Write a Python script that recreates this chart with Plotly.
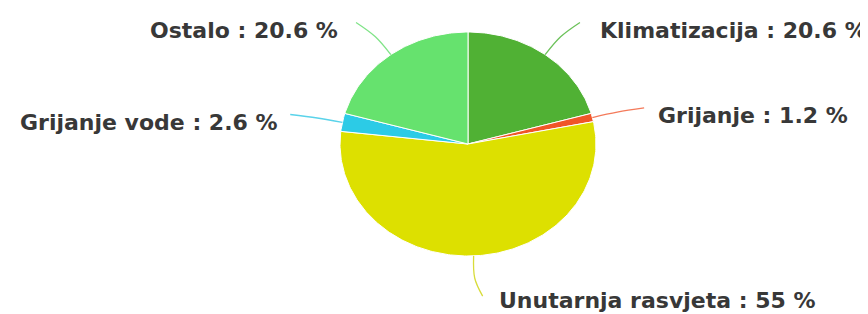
import numpy as np
import plotly.graph_objects as go

categories = ["Klimatizacija", "Grijanje", "Unutarnja rasvjeta", "Grijanje vode", "Ostalo"]
values = [20.6, 1.2, 55.0, 2.6, 20.6]
colors = ["#50b134", "#f05628", "#dde000", "#2ccbe6", "#66e26e"]
line_colors = ["#6cc25a", "#f47a5a", "#d8dc3a", "#5ad3ea", "#80e488"]
label_gaps = [18, 12, 14, 10, 16]     # styling: horizontal gap leader end -> label
label_drops = [8, 8, 4, 8, 8]         # styling: vertical drop of label below leader end

# page is 868x314, the body has an 8px margin, so the figure is 860x306
W, H = 860, 306
CX, CY = 460, 136      # pie centre in figure pixels
RX, RY = 128, 112      # pie radii in pixels

fig = go.Figure()

total = sum(values)
start = 0.0
mids = []
for cat, v, col in zip(categories, values, colors):
    a0 = start / total * 2 * np.pi
    a1 = (start + v) / total * 2 * np.pi
    th = np.linspace(a0, a1, max(8, int(v * 4)))
    xs = np.concatenate([[0], np.sin(th), [0]])
    ys = np.concatenate([[0], np.cos(th), [0]])
    fig.add_trace(go.Scatter(x=xs, y=ys, mode="lines", fill="toself",
                             fillcolor=col, line=dict(color="white", width=1),
                             hoverinfo="text", text=f"{cat}: {v}%", showlegend=False))
    mids.append((a0 + a1) / 2)
    start += v

for cat, v, a, lc, gap, drop in zip(categories, values, mids, line_colors,
                                     label_gaps, label_drops):
    sx, sy = np.sin(a), np.cos(a)
    side = 1 if sx >= 0 else -1
    hook = side * 7 / RX
    px = [sx * 1.0, sx * 1.2, sx * 1.36 + hook]
    py = [sy * 1.0, sy * 1.2, sy * 1.36]
    fig.add_trace(go.Scatter(x=px, y=py, mode="lines",
                             line=dict(color=lc, width=1.3, shape="spline"),
                             hoverinfo="skip", showlegend=False))
    fig.add_annotation(x=px[-1], y=py[-1], text=f"{cat} : {v:g} %",
                       showarrow=False, xanchor="left" if side > 0 else "right",
                       yanchor="middle", xshift=side * gap, yshift=-drop,
                       font=dict(family="DejaVu Sans", size=22, color="#383838",
                                 weight="bold"))

fig.update_layout(
    width=W, height=H,
    margin=dict(l=0, r=0, t=0, b=0),
    paper_bgcolor="white", plot_bgcolor="white",
    xaxis=dict(range=[-CX / RX, (W - CX) / RX], visible=False, fixedrange=True),
    yaxis=dict(range=[(CY - H) / RY, CY / RY], visible=False, fixedrange=True),
)

fig.write_html("out.html")
